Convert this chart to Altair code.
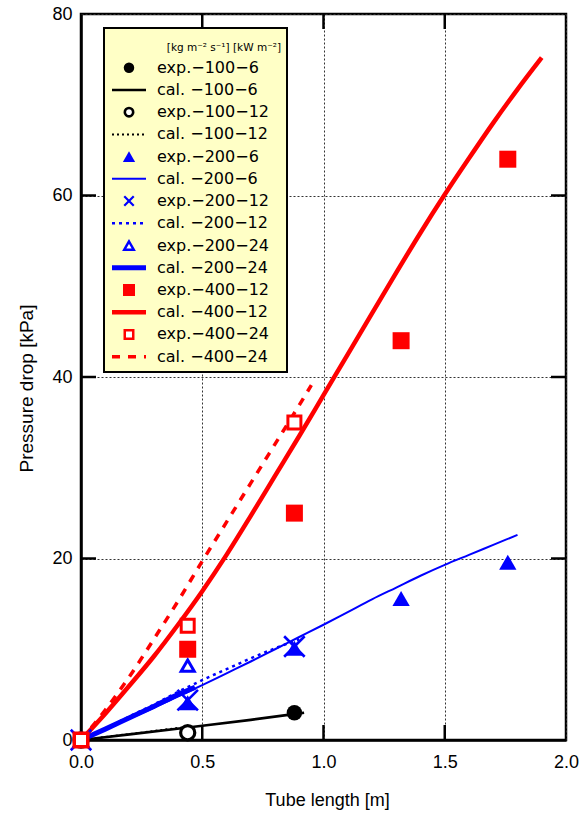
import altair as alt
import pandas as pd

# ---------------- data ----------------
x_tick_values = [0.0, 0.5, 1.0, 1.5, 2.0]
y_tick_values = [0, 20, 40, 60, 80]

# experimental points
exp_100_6_x = [0.0, 0.88]
exp_100_6_y = [0.0, 3.0]
exp_100_12_x = [0.0, 0.44]
exp_100_12_y = [0.0, 0.8]
exp_200_6_x = [0.0, 0.44, 0.88, 1.32, 1.76]
exp_200_6_y = [0.0, 4.1, 10.1, 15.6, 19.6]
exp_200_12_x = [0.0, 0.44, 0.88]
exp_200_12_y = [0.0, 4.4, 10.3]
exp_200_24_x = [0.0, 0.44]
exp_200_24_y = [0.0, 8.2]
exp_400_12_x = [0.0, 0.44, 0.88, 1.32, 1.76]
exp_400_12_y = [0.0, 10.0, 25.0, 44.0, 64.0]
exp_400_24_x = [0.0, 0.44, 0.88]
exp_400_24_y = [0.0, 12.6, 35.0]

# calculated curves
cal_100_6_x = [0.0, 0.2, 0.44, 0.7, 0.92]
cal_100_6_y = [0.0, 0.62, 1.38, 2.22, 3.0]
cal_100_12_x = [0.0, 0.2, 0.45]
cal_100_12_y = [0.0, 0.66, 1.5]
cal_200_6_x = [0.0, 0.1, 0.2, 0.3, 0.4, 0.5, 0.6, 0.7, 0.8, 0.9, 1.0,
               1.1, 1.2, 1.3, 1.4, 1.5, 1.6, 1.7, 1.8]
cal_200_6_y = [0.0, 1.15, 2.35, 3.55, 4.8, 6.05, 7.35, 8.65, 10.0, 11.35, 12.7,
               14.1, 15.5, 16.8, 18.1, 19.3, 20.4, 21.5, 22.6]
cal_200_12_x = [0.0, 0.1, 0.2, 0.3, 0.4, 0.5, 0.6, 0.7, 0.8, 0.9]
cal_200_12_y = [0.0, 1.25, 2.6, 3.9, 5.3, 6.6, 7.8, 9.0, 10.1, 11.1]
cal_200_24_x = [0.0, 0.1, 0.2, 0.3, 0.4, 0.47]
cal_200_24_y = [0.0, 1.2, 2.45, 3.7, 5.0, 5.8]
cal_400_12_x = [0.0, 0.1, 0.2, 0.3, 0.4, 0.5, 0.6, 0.7, 0.8, 0.9, 1.0,
                1.1, 1.2, 1.3, 1.4, 1.5, 1.6, 1.7, 1.8, 1.9]
cal_400_12_y = [0.0, 2.9, 6.0, 9.2, 12.7, 16.4, 20.4, 24.7, 29.1, 33.5, 38.0,
                42.5, 47.0, 51.5, 55.9, 60.1, 64.1, 68.0, 71.7, 75.2]
cal_400_24_x = [0.0, 0.1, 0.2, 0.3, 0.4, 0.5, 0.6, 0.7, 0.8, 0.9, 0.95]
cal_400_24_y = [0.0, 3.3, 7.0, 11.1, 15.3, 19.7, 24.0, 28.3, 32.6, 36.9, 39.1]

legend_header = "[kg m\u207b\u00b2 s\u207b\u00b9] [kW m\u207b\u00b2]"
legend_labels = [
    "exp.\u2212100\u22126", "cal. \u2212100\u22126",
    "exp.\u2212100\u221212", "cal. \u2212100\u221212",
    "exp.\u2212200\u22126", "cal. \u2212200\u22126",
    "exp.\u2212200\u221212", "cal. \u2212200\u221212",
    "exp.\u2212200\u221224", "cal. \u2212200\u221224",
    "exp.\u2212400\u221212", "cal. \u2212400\u221212",
    "exp.\u2212400\u221224", "cal. \u2212400\u221224",
]

# ---------------- layout / style ----------------
W, H = 485, 726
PAD = {"left": 81, "top": 14, "right": 15, "bottom": 79}
X_SHAPE = "M-1,-1L1,1M-1,1L1,-1"

xs = alt.Scale(domain=[0, 2], nice=False, zero=False)
ys = alt.Scale(domain=[0, 80], nice=False, zero=False)

GRID = dict(grid=True, gridDash=[2, 2], gridColor="#333333", gridWidth=1,
            ticks=False, tickSize=0, domainColor="black", domainWidth=2.5,
            labelColor="black", labelFont="Liberation Sans", labelFontSize=18,
            titleColor="black", titleFontWeight="normal", titleAlign="center",
            titleBaseline="middle")
x_axis = alt.Axis(values=x_tick_values, format=".1f", labelPadding=13,
                  labelFlush=False, title="Tube length [m]",
                  titleFont="Liberation Sans", titleFontSize=18,
                  titleX=246, titleY=60, **GRID)
y_axis = alt.Axis(values=y_tick_values, format="d", labelPadding=9,
                  labelFlush=False, title="Pressure drop [kPa]",
                  titleFont="Liberation Sans Narrow, Liberation Sans",
                  titleFontSize=19, titleX=-55, titleY=374, titleAngle=270,
                  **GRID)


def X(field):
    return alt.X(field, scale=xs, axis=x_axis, title="Tube length [m]")


def Y(field):
    return alt.Y(field, scale=ys, axis=y_axis, title="Pressure drop [kPa]")


lines = [
    (cal_100_6_x, cal_100_6_y, dict(color="black", strokeWidth=2.6)),
    (cal_100_12_x, cal_100_12_y, dict(color="black", strokeWidth=2, strokeDash=[2, 3])),
    (cal_200_6_x, cal_200_6_y, dict(color="blue", strokeWidth=2)),
    (cal_200_12_x, cal_200_12_y, dict(color="blue", strokeWidth=2.5, strokeDash=[3, 4])),
    (cal_200_24_x, cal_200_24_y, dict(color="blue", strokeWidth=5)),
    (cal_400_12_x, cal_400_12_y, dict(color="red", strokeWidth=4.5)),
    (cal_400_24_x, cal_400_24_y, dict(color="red", strokeWidth=3.5, strokeDash=[8, 8])),
]
points = [
    (exp_100_6_x, exp_100_6_y, dict(shape="circle", color="black", filled=True, size=240, strokeWidth=0)),
    (exp_100_12_x, exp_100_12_y, dict(shape="circle", color="black", filled=True, fill="white", stroke="black", size=200, strokeWidth=3.2)),
    (exp_200_6_x, exp_200_6_y, dict(shape="triangle-up", color="blue", filled=True, size=300, strokeWidth=0)),
    (exp_200_12_x, exp_200_12_y, dict(shape=X_SHAPE, color="blue", filled=False, size=420, strokeWidth=2.6)),
    (exp_200_24_x, exp_200_24_y, dict(shape="triangle-up", color="blue", filled=True, fill="white", stroke="blue", size=170, strokeWidth=3)),
    (exp_400_12_x, exp_400_12_y, dict(shape="square", color="red", filled=True, size=289, strokeWidth=0)),
    (exp_400_24_x, exp_400_24_y, dict(shape="square", color="red", filled=True, fill="white", stroke="red", size=169, strokeWidth=3)),
]

layers = []
for xv, yv, st in lines:
    df = pd.DataFrame({"x": xv, "y": yv})
    layers.append(alt.Chart(df).mark_line(interpolate="monotone", **st).encode(
        x=X("x:Q"), y=Y("y:Q")))
for xv, yv, st in points:
    df = pd.DataFrame({"x": xv, "y": yv})
    layers.append(alt.Chart(df).mark_point(opacity=1, fillOpacity=1, **st).encode(
        x=X("x:Q"), y=Y("y:Q")))

# inward ticks on all four sides
xt = pd.DataFrame({"x": x_tick_values[1:-1]})
yt = pd.DataFrame({"y": y_tick_values[1:-1]})
TL = 15
for y0, y1 in [(H, H - TL), (0, TL)]:
    layers.append(alt.Chart(xt).mark_rule(color="black", strokeWidth=2.5).encode(
        x=X("x:Q"), y=alt.value(y0), y2=alt.value(y1)))
for x0, x1 in [(0, TL), (W - TL, W)]:
    layers.append(alt.Chart(yt).mark_rule(color="black", strokeWidth=2.5).encode(
        y=Y("y:Q"), x=alt.value(x0), x2=alt.value(x1)))

# ---------------- legend box (pixel layout) ----------------
LX0, LX1, LY0, LY1 = 23, 206, 14, 358
ROW0, STEP = 53.7, 22.23
SYM_X, LINE_X0, LINE_X1, TEXT_X = 48, 31, 65, 76

one = pd.DataFrame({"a": [0]})
layers.append(alt.Chart(one).mark_rect(fill="#ffffc6", stroke="black", strokeWidth=2).encode(
    x=alt.value(LX0), x2=alt.value(LX1), y=alt.value(LY0), y2=alt.value(LY1)))
layers.append(alt.Chart(one).mark_text(text=legend_header, align="right", baseline="middle",
                                       font="DejaVu Sans", fontSize=10.5, color="black").encode(
    x=alt.value(LX1 - 6), y=alt.value(33.5)))

leg_point_styles = [
    dict(shape="circle", color="black", filled=True, size=110, strokeWidth=0),
    dict(shape="circle", color="black", filled=True, fill="white", stroke="black", size=70, strokeWidth=2.6),
    dict(shape="triangle-up", color="blue", filled=True, size=150, strokeWidth=0),
    dict(shape=X_SHAPE, color="blue", filled=False, size=90, strokeWidth=2.2),
    dict(shape="triangle-up", color="blue", filled=True, fill="white", stroke="blue", size=90, strokeWidth=2.5),
    dict(shape="square", color="red", filled=True, size=144, strokeWidth=0),
    dict(shape="square", color="red", filled=True, fill="white", stroke="red", size=72, strokeWidth=2.5),
]
for i, lab in enumerate(legend_labels):
    ry = ROW0 + i * STEP
    if i % 2 == 0:
        layers.append(alt.Chart(one).mark_point(opacity=1, fillOpacity=1, **leg_point_styles[i // 2]).encode(
            x=alt.value(SYM_X), y=alt.value(ry)))
    else:
        layers.append(alt.Chart(one).mark_rule(**lines[i // 2][2]).encode(
            x=alt.value(LINE_X0), x2=alt.value(LINE_X1), y=alt.value(ry)))
    layers.append(alt.Chart(one).mark_text(text=lab, align="left", baseline="middle",
                                           font="DejaVu Sans", fontSize=16, color="black").encode(
        x=alt.value(TEXT_X), y=alt.value(ry)))

chart = alt.layer(*layers).properties(
    width=W, height=H, padding=PAD, autosize=alt.AutoSizeParams(type="none"),
    background="white",
).configure_view(stroke="black", strokeWidth=2.5)

chart.save("out.html", embed_options={"renderer": "svg", "actions": False})
